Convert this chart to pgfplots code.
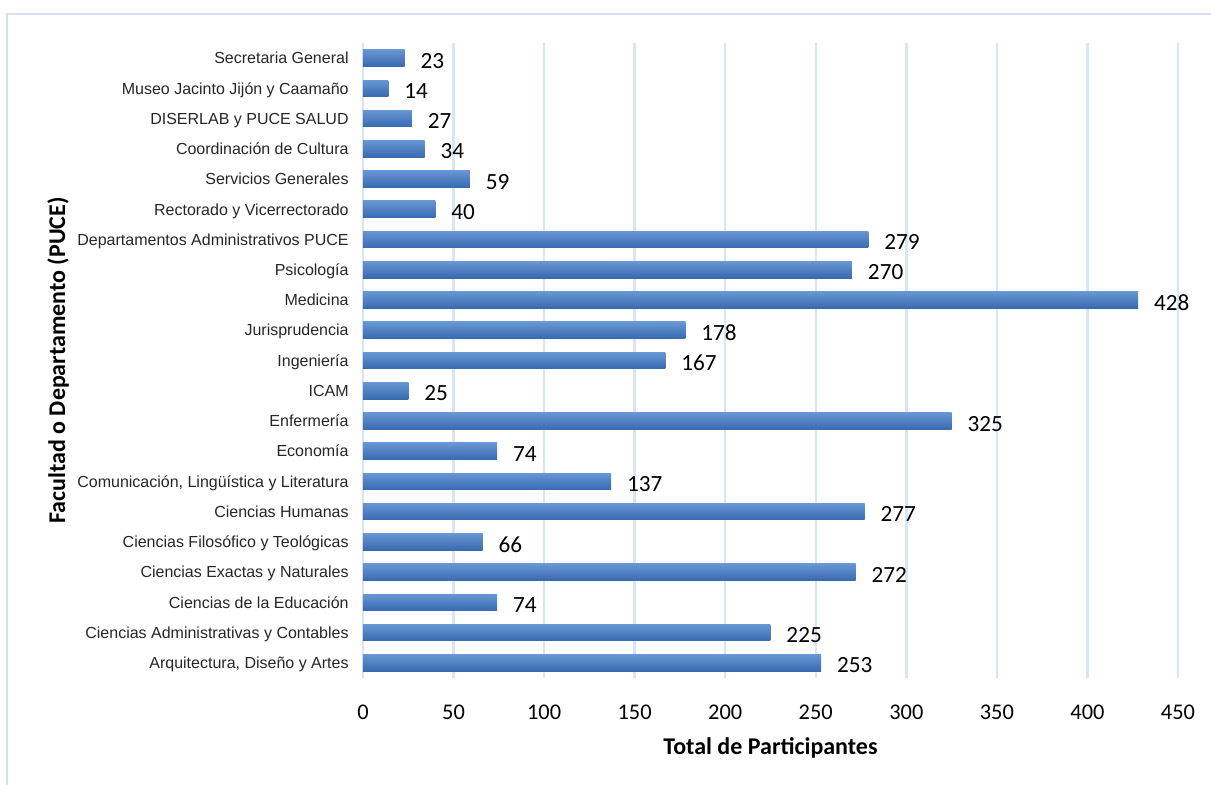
\documentclass[border=0pt]{standalone}
\usepackage{pgfplots}
\pgfplotsset{compat=1.18}
\usepackage{fontspec}
\setmainfont{Carlito}
\newfontfamily\arial{Liberation Sans}
\definecolor{gridc}{RGB}{217,228,245}
\definecolor{framec}{RGB}{213,225,243}
\definecolor{bartop}{RGB}{104,150,212}
\definecolor{barbot}{RGB}{56,106,176}
\pgfplotsset{mybar/.style={xbar, bar shift=0pt, bar width=8.3pt, draw=none, top color=bartop, bottom color=barbot,
  point meta=x, nodes near coords,
  nodes near coords style={font=\fontsize{11.6}{14}\selectfont, anchor=west, inner sep=0pt, xshift=7.8pt, yshift=-1.4pt, text height=7.3pt, text depth=0pt, black}}}
\begin{document}
\begin{tikzpicture}
\useasboundingbox (0,0) rectangle (605.5pt,392.5pt);
\draw[framec, line width=1pt] (3.5pt,0pt) -- (3.5pt,385.5pt) -- (605.5pt,385.5pt);
\begin{axis}[
  at={(181.5pt,53.5pt)}, anchor=south west,
  scale only axis, width=407.5pt, height=317.5pt,
  xmin=0, xmax=450, ymin=-0.5, ymax=20.5,
  xtick={0,50,...,450}, ytick={0,...,20},
  yticklabels={{Arquitectura, Diseño y Artes},{Ciencias Administrativas y Contables},{Ciencias de la Educación},{Ciencias Exactas y Naturales},{Ciencias Filosófico y Teológicas},{Ciencias Humanas},{Comunicación, Lingüística y Literatura},{Economía},{Enfermería},{ICAM},{Ingeniería},{Jurisprudencia},{Medicina},{Psicología},{Departamentos Administrativos PUCE},{Rectorado y Vicerrectorado},{Servicios Generales},{Coordinación de Cultura},{DISERLAB y PUCE SALUD},{Museo Jacinto Jijón y Caamaño},{Secretaria General}},
  xmajorgrids, major grid style={gridc, line width=1.2pt},
  axis line style={draw=none}, major tick length=0pt, tick style={draw=none},
  /pgf/number format/assume math mode=true,
  xticklabel style={font=\fontsize{11.2}{13}\selectfont, anchor=center, yshift=-17pt},
  yticklabel style={font=\arial\fontsize{8}{9.6}\selectfont, text=black!85, anchor=east, inner sep=0pt, xshift=-7pt, text height=5.73pt, text depth=0pt},
  xlabel={Total de Participantes},
  xlabel style={font=\bfseries\fontsize{12}{14}\selectfont, at={(axis description cs:0.5,-0.12126)}, anchor=base},
  ylabel={Facultad o Departamento (PUCE)},
  ylabel style={font=\bfseries\fontsize{12}{14}\selectfont, at={(axis description cs:-0.37423,0.5)}, anchor=center},
]
\addplot[mybar] coordinates {(253,0)};
\addplot[mybar] coordinates {(225,1)};
\addplot[mybar] coordinates {(74,2)};
\addplot[mybar] coordinates {(272,3)};
\addplot[mybar] coordinates {(66,4)};
\addplot[mybar] coordinates {(277,5)};
\addplot[mybar] coordinates {(137,6)};
\addplot[mybar] coordinates {(74,7)};
\addplot[mybar] coordinates {(325,8)};
\addplot[mybar] coordinates {(25,9)};
\addplot[mybar] coordinates {(167,10)};
\addplot[mybar] coordinates {(178,11)};
\addplot[mybar] coordinates {(428,12)};
\addplot[mybar] coordinates {(270,13)};
\addplot[mybar] coordinates {(279,14)};
\addplot[mybar] coordinates {(40,15)};
\addplot[mybar] coordinates {(59,16)};
\addplot[mybar] coordinates {(34,17)};
\addplot[mybar] coordinates {(27,18)};
\addplot[mybar] coordinates {(14,19)};
\addplot[mybar] coordinates {(23,20)};
\end{axis}
\end{tikzpicture}
\end{document}
